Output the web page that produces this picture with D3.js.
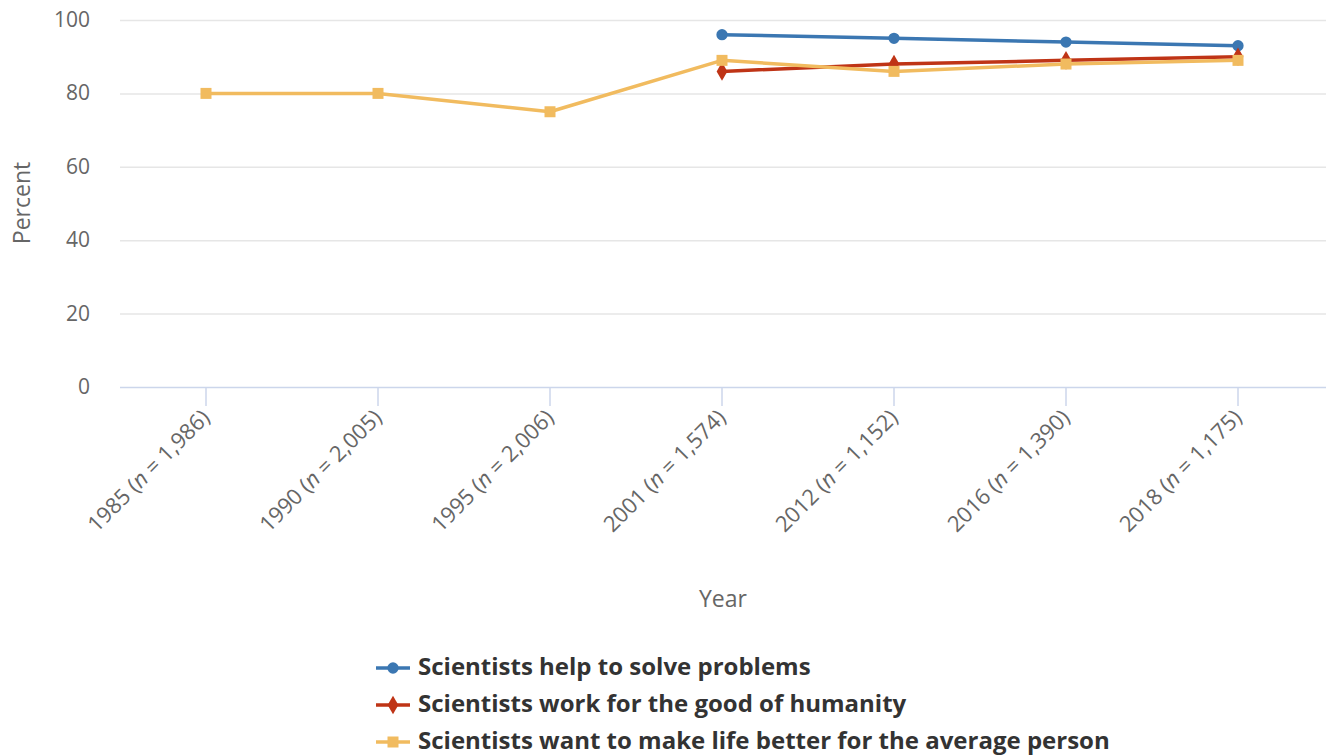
<!DOCTYPE html>
<html><head><meta charset="utf-8">
<script src="https://cdn.jsdelivr.net/npm/d3@7"></script>
<style>
body{margin:0;background:#fff;}
text{font-family:"Open Sans",sans-serif;}
</style></head>
<body><svg id="c" width="1326" height="755"></svg>
<script>
const years = ["1985","1990","1995","2001","2012","2016","2018"];
const sampleSizes = ["1,986","2,005","2,006","1,574","1,152","1,390","1,175"];
const seriesNames = ["Scientists help to solve problems","Scientists work for the good of humanity","Scientists want to make life better for the average person"];
const helpSolve = [null,null,null,96,95,94,93];
const goodHumanity = [null,null,null,86,88,89,90];
const lifeBetter = [80,80,75,89,86,88,89];
const yTicks = [0,20,40,60,80,100];
const colors = ["#3b77b2","#bf3416","#f1bb5f"];
const symbols = [d3.symbolCircle, d3.symbolDiamond, d3.symbolSquare];

const svg = d3.select("#c");
const x = d3.scaleBand().domain(years).range([120,1324]);
const y = d3.scaleLinear().domain([0,100]).range([387,20]);

// grid
svg.append("g").selectAll("line").data(yTicks.filter(t=>t>0)).join("line")
  .attr("x1",120).attr("x2",1326).attr("y1",d=>y(d)+0.5).attr("y2",d=>y(d)+0.5)
  .attr("stroke","#e6e6e6").attr("stroke-width",1.5);
// y labels
svg.append("g").selectAll("text").data(yTicks).join("text")
  .attr("x",90).attr("y",d=>y(d)+7).attr("text-anchor","end")
  .attr("font-size",21).attr("fill","#666").text(d=>d);
// x axis
svg.append("line").attr("x1",120).attr("x2",1326).attr("y1",387.5).attr("y2",387.5)
  .attr("stroke","#ccd6eb").attr("stroke-width",1.5);
const xt = svg.append("g").selectAll("g").data(years).join("g");
xt.append("line").attr("x1",d=>x(d)+x.bandwidth()/2).attr("x2",d=>x(d)+x.bandwidth()/2)
  .attr("y1",387).attr("y2",406).attr("stroke","#ccd6eb").attr("stroke-width",1.5);
xt.append("text").attr("transform",(d)=>`translate(${x(d)+x.bandwidth()/2+5},${419}) rotate(-45)`)
  .attr("text-anchor","end").attr("font-size",22).attr("fill","#666")
  .each(function(d,i){
    const t=d3.select(this);
    t.append("tspan").text(d+" (");
    t.append("tspan").attr("font-style","italic").text("n");
    t.append("tspan").text(" = "+sampleSizes[i]+")");
  });
// axis titles
svg.append("text").attr("x",723).attr("y",607).attr("text-anchor","middle")
  .attr("font-size",23).attr("fill","#666").text("Year");
svg.append("text").attr("transform","translate(30,203) rotate(-90)").attr("text-anchor","middle")
  .attr("font-size",23).attr("fill","#666").text("Percent");

// series
const data=[helpSolve,goodHumanity,lifeBetter];
const cx = i=>x(years[i])+x.bandwidth()/2;
const line = d3.line().defined(d=>d.v!=null).x(d=>cx(d.i)).y(d=>y(d.v));
const sizes=[100,100,121];
data.forEach((vals,s)=>{
  const pts = vals.map((v,i)=>({v,i}));
  svg.append("path").datum(pts).attr("d",line).attr("fill","none")
    .attr("stroke",colors[s]).attr("stroke-width",3.5).attr("stroke-linejoin","round");
  svg.append("g").selectAll("path").data(pts.filter(d=>d.v!=null)).join("path")
    .attr("transform",d=>`translate(${cx(d.i)},${y(d.v)})`)
    .attr("d",d3.symbol().type(symbols[s]).size(sizes[s])).attr("fill",colors[s]);
});

// legend
const lg = svg.append("g");
seriesNames.forEach((n,s)=>{
  const yy = 668 + s*37;
  lg.append("line").attr("x1",376).attr("x2",410).attr("y1",yy).attr("y2",yy)
    .attr("stroke",colors[s]).attr("stroke-width",3.5);
  lg.append("path").attr("transform",`translate(393,${yy})`)
    .attr("d",d3.symbol().type(symbols[s]).size(sizes[s])).attr("fill",colors[s]);
  lg.append("text").attr("x",418).attr("y",yy+7).attr("font-size",24).attr("font-weight","bold")
    .attr("fill","#333").text(n);
});
</script></body></html>
